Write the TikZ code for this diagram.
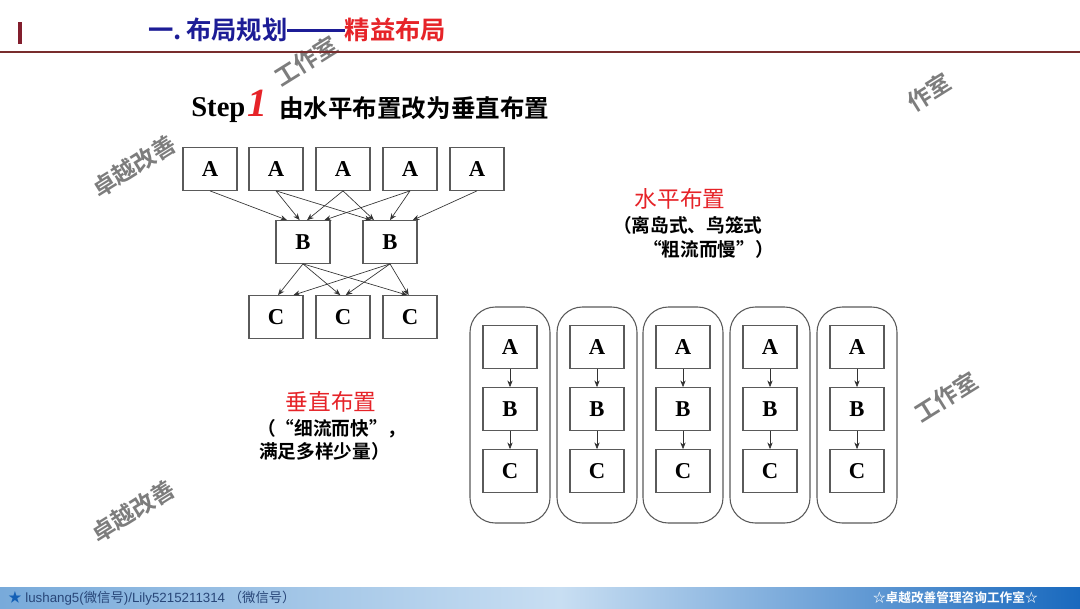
\documentclass[tikz,border=0pt]{standalone}
\usepackage{fontspec}
\usetikzlibrary{arrows.meta,positioning}
\setmainfont{Liberation Serif}
\newfontfamily\cjk{Noto Sans CJK SC}[BoldFont={Noto Sans CJK SC Bold}]
\newfontfamily\lsans{Liberation Sans}
\definecolor{titleblue}{RGB}{28,28,150}
\definecolor{titlered}{RGB}{230,35,40}
\definecolor{barred}{RGB}{130,30,45}
\definecolor{linered}{RGB}{120,45,45}
\definecolor{boxgray}{RGB}{90,90,90}
\definecolor{wmgray}{RGB}{125,125,125}
\definecolor{footdark}{RGB}{40,70,120}
\tikzset{
  box/.style={draw=boxgray, line width=0.8pt, minimum width=40.5pt, minimum height=32pt, inner sep=0pt, font=\fontsize{17}{17}\selectfont\bfseries},
  arr/.style={-{Stealth[length=5pt,width=4pt]}, draw=black!80, line width=0.5pt},
  capsule/.style={draw=boxgray, line width=0.8pt, rounded corners=19pt, minimum width=60pt, minimum height=162pt, inner sep=0pt},
  wm/.style={text=wmgray, font=\cjk\bfseries\fontsize{17.5}{17.5}\selectfont, rotate=32, inner sep=0pt},
  cjkb/.style={font=\cjk\bfseries\fontsize{14}{14}\selectfont, inner sep=0pt},
  cjkred/.style={font=\cjk\fontsize{17}{17}\selectfont, text=titlered, inner sep=0pt}
}
\begin{document}
\begin{tikzpicture}[x=0.75pt,y=-0.75pt]
\useasboundingbox (0,0) rectangle (1080,608);
\fill[white] (0,0) rectangle (1080,608);

% watermarks
\node[wm] (wm1) at (134,166) {卓越改善};
\node[wm] (wm2) at (306,61) {工作室};
\node[wm] (wm3) at (929,92) {作室};
\node[wm] (wm4) at (946,397) {工作室};
\node[wm] (wm5) at (133,511) {卓越改善};

% title
\fill[barred] (18,22) rectangle (22,44);
\node[anchor=west, inner sep=0pt, font=\cjk\bfseries\fontsize{19}{19}\selectfont] (title) at (148,30)
  {\textcolor{titleblue}{一.\,布局规划\raisebox{0.3em}{\rule{43pt}{2.2pt}}}\textcolor{titlered}{精益布局}};
\draw[linered, line width=1.1pt] (0,52) -- (1080,52);

% step 1
\node[anchor=base west, inner sep=0pt, font=\bfseries\fontsize{21.5}{21.5}\selectfont] (step) at (191,116) {Step};
\node[anchor=base west, inner sep=0pt, font=\bfseries\itshape\fontsize{30}{30}\selectfont, text=titlered] (one) at ([xshift=1pt]step.base east) {1};
\node[anchor=west, inner sep=0pt, font=\cjk\bfseries\fontsize{18.4}{18.4}\selectfont] (steptxt) at (279,108) {由水平布置改为垂直布置};

% top network
\node[box] (A1) at (210,169) {A};
\node[box] (A2) at (276,169) {A};
\node[box] (A3) at (343,169) {A};
\node[box] (A4) at (410,169) {A};
\node[box] (A5) at (477,169) {A};
\node[box] (B1) at (303,242) {B};
\node[box] (B2) at (390,242) {B};
\node[box] (C1) at (276,317) {C};
\node[box] (C2) at (343,317) {C};
\node[box] (C3) at (410,317) {C};

\draw[arr] (A1.south) -- ([xshift=-12pt]B1.north);
\draw[arr] (A2.south) -- ([xshift=-2.5pt]B1.north);
\draw[arr] (A3.south) -- ([xshift=3pt]B1.north);
\draw[arr] (A4.south) -- ([xshift=16pt]B1.north);
\draw[arr] (A2.south) -- ([xshift=-14pt]B2.north);
\draw[arr] (A3.south) -- ([xshift=-12pt]B2.north);
\draw[arr] (A4.south) -- ([xshift=0pt]B2.north);
\draw[arr] (A5.south) -- ([xshift=17pt]B2.north);

\draw[arr] (B1.south) -- ([xshift=1.5pt]C1.north);
\draw[arr] (B1.south) -- ([xshift=-2pt]C2.north);
\draw[arr] (B1.south) -- ([xshift=-2pt]C3.north);
\draw[arr] (B2.south) -- ([xshift=13pt]C1.north);
\draw[arr] (B2.south) -- ([xshift=2pt]C2.north);
\draw[arr] (B2.south) -- ([xshift=-1pt]C3.north);

% horizontal layout label
\node[cjkred, anchor=center] (hlab) at (680,199) {水平布置};
\node[cjkb, anchor=west] (hl2) at (613,225) {（离岛式、鸟笼式};
\node[cjkb, anchor=west] (hl3) at (643,249) {“粗流而慢”）};

% vertical layout label
\node[cjkred, anchor=center] (vlab) at (331,402) {垂直布置};
\node[cjkb, anchor=west] (vl2) at (257,429) {（“细流而快”，};
\node[cjkb, anchor=west] (vl3) at (259,451) {满足多样少量）};

% vertical columns
\foreach \i/\x in {1/510,2/597,3/683,4/770,5/857}{
  \node[capsule] (K\i) at (\x,415) {};
  \node[box] (VA\i) at (\x,347) {A};
  \node[box] (VB\i) at (\x,409) {B};
  \node[box] (VC\i) at (\x,471) {C};
  \draw[arr] (VA\i.south) -- (VB\i.north);
  \draw[arr] (VB\i.south) -- (VC\i.north);
}

% footer
\shade[left color={rgb,255:red,120;green,170;blue,218}, right color={rgb,255:red,200;green,222;blue,242}] (0,587) rectangle (560,608);
\shade[left color={rgb,255:red,200;green,222;blue,242}, right color={rgb,255:red,25;green,105;blue,190}] (560,587) rectangle (1080,608);
\node[anchor=west, inner sep=0pt, text=footdark, font=\lsans\fontsize{10}{10}\selectfont] (foot1) at (8,598)
  {\textcolor{titleblue!70!cyan}{\cjk ★} lushang5({\cjk 微信号})/Lily5215211314 {\cjk（微信号）}};
\node[anchor=east, inner sep=0pt, text=white, font=\cjk\bfseries\fontsize{9.5}{10}\selectfont] (foot2) at (1038,598)
  {☆卓越改善管理咨询工作室☆};
\end{tikzpicture}
\end{document}
